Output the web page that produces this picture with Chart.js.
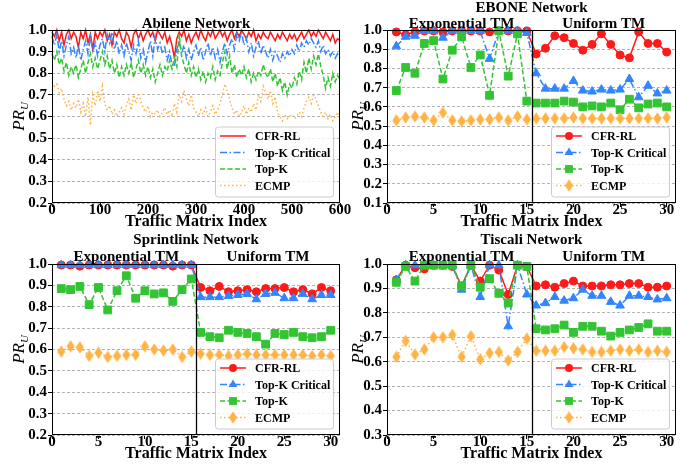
<!DOCTYPE html>
<html>
<head>
<meta charset="utf-8">
<script src="https://cdn.jsdelivr.net/npm/chart.js@4.4.1/dist/chart.umd.min.js"></script>
<style>
    html, body { margin: 0; padding: 0; background: #fff; }
    #wrap { position: relative; width: 692px; height: 465px; overflow: hidden; }
    #wrap canvas { position: absolute; }
</style>
</head>
<body>
<div id="wrap">
    <canvas id="abilene" width="360" height="232" style="left:0;top:0"></canvas>
    <canvas id="ebone" width="346" height="232" style="left:346px;top:0"></canvas>
    <canvas id="sprint" width="360" height="233" style="left:0;top:232px"></canvas>
    <canvas id="tiscali" width="346" height="233" style="left:346px;top:232px"></canvas>
</div>
<script>
// series names, in legend order
const seriesNames = ['CFR-RL', 'Top-K Critical', 'Top-K', 'ECMP'];

// Abilene: one reading every 5 traffic matrices (0..600)
const abileneStep = 5;
const abileneCfr = [
    0.99, 0.97, 1.0, 0.95, 0.99, 0.93, 0.98, 1.0, 0.96, 0.99,
    0.97, 0.92, 0.99, 0.96, 1.0, 0.94, 0.98, 0.91, 0.99, 0.96,
    0.99, 0.97, 1.0, 0.95, 0.98, 0.93, 0.99, 0.97, 1.0, 0.96,
    0.94, 0.99, 0.97, 0.92, 0.98, 1.0, 0.96, 0.99, 0.95, 0.98,
    1.0, 0.97, 0.99, 0.95, 1.0, 0.98, 0.96, 0.99, 0.94, 0.97,
    0.93, 0.87, 0.96, 0.99, 0.97, 1.0, 0.95, 0.98, 0.94, 0.97,
    0.99, 0.96, 1.0, 0.97, 0.95, 0.99, 0.97, 1.0, 0.96, 0.98,
    1.0, 0.97, 0.99, 0.95, 0.98, 1.0, 0.96, 0.99, 0.97, 1.0,
    0.98, 0.96, 0.99, 0.97, 1.0, 0.95, 0.98, 0.96, 0.99, 0.97,
    0.96, 0.99, 0.97, 0.95, 0.98, 0.96, 0.99, 0.97, 0.95, 0.98,
    0.96, 0.98, 0.95, 0.97, 0.99, 0.96, 0.98, 1.0, 0.97, 0.99,
    0.97, 1.0, 0.98, 0.96, 0.99, 0.97, 0.95, 0.98, 0.94, 0.96,
    0.95
];
const abileneCrit = [
    0.97, 0.93, 0.98, 0.90, 0.95, 0.88, 0.93, 0.97, 0.89, 0.92,
    0.87, 0.93, 0.86, 0.91, 0.95, 0.89, 0.97, 0.90, 0.94, 0.88,
    0.93, 0.96, 0.90, 0.98, 0.94, 0.99, 0.91, 0.95, 0.89, 0.93,
    0.88, 0.94, 0.90, 0.86, 0.93, 0.89, 0.95, 0.87, 0.91, 0.85,
    0.90, 0.95, 0.88, 0.97, 0.91, 0.94, 0.89, 0.92, 0.86, 0.90,
    0.84, 0.83, 0.91, 0.95, 0.89, 0.93, 0.87, 0.91, 0.86, 0.90,
    0.93, 0.88, 0.92, 0.86, 0.90, 0.94, 0.88, 0.92, 0.87, 0.91,
    0.85, 0.90, 0.94, 0.89, 0.93, 0.96, 0.91, 0.98, 0.95, 0.99,
    0.93, 0.96, 0.90, 0.94, 0.88, 0.92, 0.95, 0.89, 0.93, 0.90,
    0.87, 0.91, 0.86, 0.90, 0.88, 0.85, 0.89, 0.87, 0.90, 0.88,
    0.91, 0.89, 0.93, 0.90, 0.94, 0.92, 0.95, 0.93, 0.96, 0.94,
    0.92, 0.95, 0.90, 0.93, 0.89, 0.91, 0.88, 0.90, 0.87, 0.89,
    0.87
];
const abileneTopk = [
    0.89, 0.86, 0.90, 0.84, 0.87, 0.81, 0.85, 0.79, 0.83, 0.80,
    0.84, 0.78, 0.82, 0.86, 0.80, 0.85, 0.89, 0.83, 0.87, 0.82,
    0.86, 0.90, 0.84, 0.88, 0.82, 0.86, 0.80, 0.84, 0.78, 0.83,
    0.79, 0.84, 0.80, 0.85, 0.78, 0.82, 0.86, 0.80, 0.84, 0.79,
    0.83, 0.78, 0.82, 0.76, 0.80, 0.84, 0.79, 0.83, 0.81, 0.86,
    0.82, 0.87, 0.83, 0.98, 0.88, 0.84, 0.80, 0.85, 0.79, 0.83,
    0.78, 0.82, 0.77, 0.81, 0.76, 0.80, 0.78, 0.83, 0.77, 0.81,
    0.79, 0.85, 0.90, 0.82, 0.88, 0.80, 0.84, 0.78, 0.82, 0.79,
    0.83, 0.78, 0.82, 0.76, 0.80, 0.77, 0.81, 0.79, 0.84, 0.80,
    0.78, 0.82, 0.76, 0.80, 0.74, 0.78, 0.72, 0.76, 0.70, 0.75,
    0.73, 0.78, 0.75, 0.81, 0.77, 0.85, 0.80, 0.87, 0.82, 0.88,
    0.84, 0.89, 0.83, 0.79, 0.73, 0.78, 0.74, 0.80, 0.76, 0.79,
    0.77
];
const abileneEcmp = [
    0.76, 0.74, 0.75, 0.71, 0.73, 0.68, 0.65, 0.67, 0.63, 0.66,
    0.64, 0.68, 0.62, 0.66, 0.60, 0.69, 0.56, 0.70, 0.65, 0.72,
    0.67, 0.74, 0.66, 0.63, 0.65, 0.61, 0.63, 0.60, 0.62, 0.64,
    0.61, 0.65, 0.68, 0.63, 0.70, 0.66, 0.71, 0.67, 0.64, 0.62,
    0.65, 0.60, 0.62, 0.61, 0.63, 0.60, 0.62, 0.64, 0.61, 0.63,
    0.60, 0.66, 0.62, 0.70, 0.67, 0.72, 0.68, 0.65, 0.70, 0.64,
    0.62, 0.60, 0.63, 0.61, 0.64, 0.60, 0.62, 0.65, 0.61, 0.63,
    0.66, 0.70, 0.75, 0.72, 0.68, 0.64, 0.61, 0.63, 0.60, 0.62,
    0.65, 0.61, 0.64, 0.62, 0.66, 0.63, 0.70, 0.67, 0.74, 0.71,
    0.68, 0.72, 0.66, 0.69, 0.62, 0.60, 0.58, 0.61, 0.59, 0.60,
    0.61, 0.59, 0.60, 0.62, 0.60, 0.64, 0.67, 0.69, 0.66, 0.70,
    0.68, 0.65, 0.62, 0.60, 0.62, 0.59, 0.61, 0.58, 0.60, 0.62,
    0.60
];

// the three 30-matrix plots (1-15 exponential TM, 16-30 uniform TM)
const tmIndex = [1, 2, 3, 4, 5, 6, 7, 8, 9, 10, 11, 12, 13, 14, 15,
                 16, 17, 18, 19, 20, 21, 22, 23, 24, 25, 26, 27, 28, 29, 30];

const eboneCfr = [0.99, 0.975, 0.99, 0.995, 0.995, 0.99, 0.995, 0.995, 0.995, 0.995, 0.99, 0.995, 0.995, 0.995, 0.995,
                  0.875, 0.905, 0.97, 0.96, 0.93, 0.895, 0.925, 0.98, 0.925, 0.87, 0.855, 0.99, 0.93, 0.93, 0.885];
const eboneCrit = [0.915, 0.965, 0.97, 0.995, 0.995, 0.96, 0.995, 0.995, 0.995, 0.995, 0.85, 0.995, 0.995, 0.995, 0.985,
                   0.775, 0.695, 0.695, 0.695, 0.735, 0.685, 0.68, 0.69, 0.685, 0.69, 0.745, 0.65, 0.71, 0.67, 0.685];
const eboneTopk = [0.685, 0.805, 0.775, 0.93, 0.945, 0.745, 0.895, 0.965, 0.805, 0.87, 0.66, 0.995, 0.76, 0.98, 0.63,
                   0.62, 0.62, 0.62, 0.63, 0.625, 0.60, 0.605, 0.60, 0.62, 0.585, 0.64, 0.595, 0.615, 0.62, 0.60];
const eboneEcmp = [0.53, 0.545, 0.55, 0.545, 0.53, 0.57, 0.53, 0.525, 0.53, 0.535, 0.535, 0.545, 0.53, 0.55, 0.535,
                   0.54, 0.54, 0.54, 0.54, 0.545, 0.54, 0.54, 0.54, 0.54, 0.54, 0.54, 0.54, 0.54, 0.54, 0.545];

const sprintCfr = [0.995, 0.995, 0.99, 0.995, 0.995, 0.995, 0.995, 0.995, 0.995, 0.995, 0.995, 0.995, 0.99, 0.995, 0.995,
                   0.89, 0.875, 0.895, 0.87, 0.875, 0.88, 0.87, 0.885, 0.885, 0.89, 0.87, 0.88, 0.86, 0.89, 0.875];
const sprintCrit = [0.995, 0.995, 0.995, 0.995, 0.995, 0.995, 0.995, 0.995, 0.995, 0.995, 0.995, 0.995, 0.995, 0.995, 0.995,
                    0.845, 0.845, 0.845, 0.85, 0.855, 0.86, 0.835, 0.86, 0.865, 0.84, 0.84, 0.86, 0.835, 0.855, 0.855];
const sprintTopk = [0.885, 0.88, 0.895, 0.81, 0.89, 0.785, 0.875, 0.945, 0.84, 0.875, 0.86, 0.865, 0.825, 0.88, 0.93,
                    0.68, 0.66, 0.655, 0.69, 0.68, 0.675, 0.66, 0.625, 0.675, 0.67, 0.68, 0.66, 0.655, 0.66, 0.69];
const sprintEcmp = [0.59, 0.615, 0.61, 0.57, 0.585, 0.565, 0.57, 0.575, 0.575, 0.615, 0.60, 0.595, 0.60, 0.565, 0.59,
                    0.58, 0.575, 0.575, 0.57, 0.575, 0.58, 0.575, 0.575, 0.575, 0.575, 0.575, 0.575, 0.57, 0.575, 0.57];

const tiscaliCfr = [0.935, 0.995, 0.985, 0.98, 0.995, 0.995, 0.99, 0.91, 0.995, 0.93, 0.995, 0.975, 0.875, 0.995, 0.99,
                    0.91, 0.915, 0.905, 0.92, 0.93, 0.91, 0.91, 0.91, 0.915, 0.915, 0.92, 0.92, 0.905, 0.905, 0.91];
const tiscaliCrit = [0.935, 0.995, 0.995, 0.995, 0.995, 0.995, 0.995, 0.895, 0.995, 0.865, 0.995, 0.995, 0.745, 0.995, 0.875,
                     0.83, 0.84, 0.865, 0.85, 0.86, 0.895, 0.87, 0.87, 0.845, 0.83, 0.87, 0.87, 0.865, 0.855, 0.86];
const tiscaliTopk = [0.925, 0.99, 0.93, 0.995, 0.995, 0.995, 0.995, 0.91, 0.995, 0.905, 0.94, 0.88, 0.84, 0.995, 0.99,
                     0.735, 0.73, 0.735, 0.75, 0.72, 0.745, 0.745, 0.725, 0.705, 0.72, 0.73, 0.74, 0.755, 0.725, 0.725];
const tiscaliEcmp = [0.62, 0.685, 0.63, 0.65, 0.70, 0.70, 0.71, 0.62, 0.705, 0.61, 0.635, 0.64, 0.605, 0.64, 0.695,
                     0.645, 0.645, 0.645, 0.66, 0.655, 0.65, 0.64, 0.64, 0.645, 0.65, 0.645, 0.65, 0.64, 0.645, 0.64];

// ---------- styling ----------
const FONT = '"Liberation Serif", "Times New Roman", serif';
const colors = ['#ff1a1a', '#3385ff', '#33c433', '#ffb347'];
const dashes = [[], [7, 2.5, 1.5, 2.5], [5, 2.5], [1.5, 2.5]];

const thinDiamond = (color) => {
    const c = document.createElement('canvas');
    c.width = 9; c.height = 13;
    const g = c.getContext('2d');
    g.fillStyle = color;
    g.beginPath();
    g.moveTo(4.5, 0.3); g.lineTo(8.6, 6.5); g.lineTo(4.5, 12.7); g.lineTo(0.4, 6.5);
    g.closePath();
    g.fill();
    return c;
};
const diamondImg = thinDiamond(colors[3]);
const pointStyles = ['circle', 'triangle', 'rect', diamondImg];
const pointRadii = [4, 5, 5.5, 5];

const drawMarker = (ctx, i, x, y) => {
    ctx.save();
    ctx.fillStyle = colors[i];
    ctx.setLineDash([]);
    ctx.beginPath();
    if (i === 0) {
        ctx.arc(x, y, 4, 0, Math.PI * 2);
        ctx.fill();
    } else if (i === 1) {
        ctx.moveTo(x, y - 5); ctx.lineTo(x + 4.4, y + 2.6); ctx.lineTo(x - 4.4, y + 2.6);
        ctx.closePath(); ctx.fill();
    } else if (i === 2) {
        ctx.rect(x - 3.9, y - 3.9, 7.8, 7.8);
        ctx.fill();
    } else {
        ctx.drawImage(diamondImg, x - 4.5, y - 6.5);
    }
    ctx.restore();
};

// titles, frame, split line, PR_U label and inner legend
const deco = {
    id: 'deco',
    afterDraw(chart, args, o) {
        const { ctx, chartArea: a, scales: { x } } = chart;
        const cx = (a.left + a.right) / 2;
        ctx.save();

        if (o.split) {
            const px = Math.round(x.getPixelForValue(15.5)) + 0.5;
            ctx.strokeStyle = '#000';
            ctx.lineWidth = 1.3;
            ctx.beginPath();
            ctx.moveTo(px, a.top); ctx.lineTo(px, a.bottom);
            ctx.stroke();
        }

        ctx.strokeStyle = '#000';
        ctx.lineWidth = 1;
        ctx.strokeRect(Math.round(a.left) + 0.5, Math.round(a.top) + 0.5,
            Math.round(a.right - a.left) - 1, Math.round(a.bottom - a.top) - 1);

        ctx.fillStyle = '#000';
        ctx.textAlign = 'center';
        ctx.textBaseline = 'middle';
        ctx.font = `bold 15px ${FONT}`;
        ctx.fillText(o.title, cx, o.titleY);
        if (o.split) {
            ctx.fillText('Exponential TM', x.getPixelForValue(8), o.subY);
            ctx.fillText('Uniform TM', x.getPixelForValue(23.25), o.subY);
        }
        ctx.font = `bold 16px ${FONT}`;
        ctx.fillText('Traffic Matrix Index', cx, o.xTitleY);

        // y title: italic PR with subscript U
        ctx.save();
        ctx.translate(o.yTitleX, (a.top + a.bottom) / 2);
        ctx.rotate(-Math.PI / 2);
        ctx.textAlign = 'left';
        ctx.font = `italic 17px ${FONT}`;
        const w1 = ctx.measureText('PR').width;
        ctx.font = `italic 11px ${FONT}`;
        const w2 = ctx.measureText('U').width;
        const sx = -(w1 + w2) / 2;
        ctx.font = `italic 17px ${FONT}`;
        ctx.fillText('PR', sx, 0);
        ctx.font = `italic 11px ${FONT}`;
        ctx.fillText('U', sx + w1, 5);
        ctx.restore();

        // legend box
        const lw = 118, lh = 70;
        const x0 = a.right - 7 - lw, y0 = a.bottom - 6.5 - lh;
        ctx.beginPath();
        ctx.roundRect(x0 + 0.5, y0 + 0.5, lw, lh, 3);
        ctx.fillStyle = 'rgba(255,255,255,0.8)';
        ctx.fill();
        ctx.strokeStyle = '#cccccc';
        ctx.lineWidth = 1;
        ctx.stroke();
        ctx.font = `bold 12px ${FONT}`;
        ctx.textAlign = 'left';
        seriesNames.forEach((name, i) => {
            const ry = y0 + 9.5 + i * 16.5;
            ctx.strokeStyle = colors[i];
            ctx.lineWidth = 1.5;
            ctx.setLineDash(dashes[i]);
            ctx.beginPath();
            ctx.moveTo(x0 + 5, ry); ctx.lineTo(x0 + 31, ry);
            ctx.stroke();
            ctx.setLineDash([]);
            if (o.markers) drawMarker(ctx, i, x0 + 18, ry);
            ctx.fillStyle = '#000';
            ctx.fillText(name, x0 + 40, ry + 1);
        });
        ctx.restore();
    }
};

const makeChart = (id, xs, series, cfg) => {
    const datasets = series.map((ys, i) => ({
        label: seriesNames[i],
        data: xs.map((x, j) => ({ x, y: ys[j] })),
        borderColor: colors[i],
        backgroundColor: colors[i],
        borderWidth: 1.5,
        borderDash: dashes[i],
        pointStyle: pointStyles[i],
        pointRadius: cfg.markers ? pointRadii[i] : 0,
        pointBorderWidth: i === 3 ? 0 : 1,
        pointBorderColor: colors[i],
        pointBackgroundColor: colors[i],
        tension: 0,
        fill: false,
        clip: false,
        order: 4 - i
    }));

    return new Chart(document.getElementById(id), {
        type: 'line',
        data: { datasets },
        options: {
            responsive: false,
            animation: false,
            events: [],
            layout: { padding: { left: 0, top: cfg.top, right: cfg.right, bottom: 0 } },
            plugins: {
                legend: { display: false },
                tooltip: { enabled: false },
                deco: cfg.deco
            },
            scales: {
                x: {
                    type: 'linear',
                    min: 0,
                    max: cfg.xMax,
                    afterFit: s => { s.height = cfg.xHeight; },
                    ticks: {
                        stepSize: cfg.xStep,
                        includeBounds: false,
                        autoSkip: false,
                        maxRotation: 0,
                        padding: -6,
                        color: '#000',
                        font: { family: FONT, weight: 'bold', size: 15 }
                    },
                    grid: { drawOnChartArea: false, tickLength: 4, tickColor: '#000' },
                    border: { display: false }
                },
                y: {
                    min: cfg.yMin,
                    max: 1.0,
                    afterFit: s => { s.width = cfg.yWidth; },
                    ticks: {
                        stepSize: 0.1,
                        includeBounds: false,
                        autoSkip: false,
                        padding: 1,
                        color: '#000',
                        font: { family: FONT, weight: 'bold', size: 15 },
                        callback: v => v.toFixed(1)
                    },
                    grid: { color: '#b4b4b4', tickLength: 4, tickColor: '#000' },
                    border: { display: false, dash: [3, 2] }
                }
            }
        },
        plugins: [deco]
    });
};

const abileneIdx = abileneCfr.map((_, i) => i * abileneStep);

makeChart('abilene', abileneIdx, [abileneCfr, abileneCrit, abileneTopk, abileneEcmp], {
    markers: false, xMax: 600, xStep: 100, yMin: 0.2, top: 30, right: 20, xHeight: 29, yWidth: 52,
    deco: { title: 'Abilene Network', titleY: 24, split: false, xTitleY: 222, yTitleX: 20, markers: false }
});
makeChart('ebone', tmIndex, [eboneCfr, eboneCrit, eboneTopk, eboneEcmp], {
    markers: true, xMax: 31, xStep: 5, yMin: 0.1, top: 30, right: 16, xHeight: 29, yWidth: 41,
    deco: { title: 'EBONE Network', titleY: 8, subY: 24, split: true, xTitleY: 222, yTitleX: 13, markers: true }
});
makeChart('sprint', tmIndex, [sprintCfr, sprintCrit, sprintTopk, sprintEcmp], {
    markers: true, xMax: 31, xStep: 5, yMin: 0.2, top: 32, right: 20, xHeight: 30, yWidth: 52,
    deco: { title: 'Sprintlink Network', titleY: 8, subY: 25, split: true, xTitleY: 222, yTitleX: 20, markers: true }
});
makeChart('tiscali', tmIndex, [tiscaliCfr, tiscaliCrit, tiscaliTopk, tiscaliEcmp], {
    markers: true, xMax: 31, xStep: 5, yMin: 0.3, top: 32, right: 16, xHeight: 30, yWidth: 41,
    deco: { title: 'Tiscali Network', titleY: 8, subY: 25, split: true, xTitleY: 222, yTitleX: 13, markers: true }
});
</script>
</body>
</html>
